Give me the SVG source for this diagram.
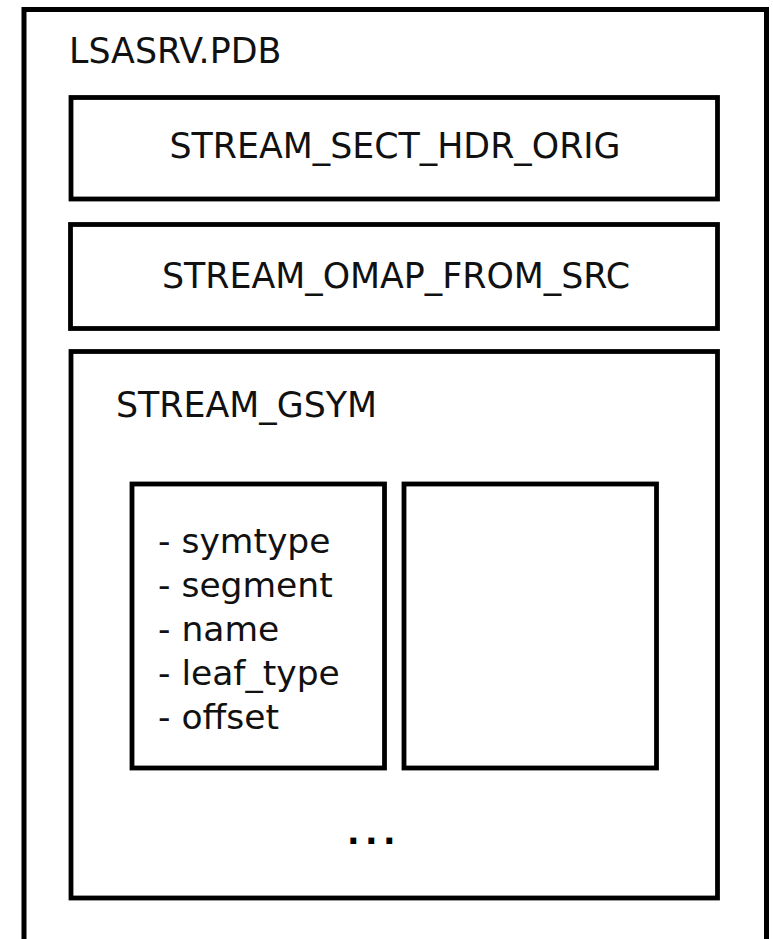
<svg xmlns="http://www.w3.org/2000/svg" width="773" height="939" viewBox="0 0 773 939">
<style>
.box{fill:none;stroke:#000;stroke-width:4.8}
.outer{fill:none;stroke:#000;stroke-width:5}
.t{font-family:"DejaVu Sans",sans-serif;font-size:34.8px;fill:#111}
.l{font-family:"DejaVu Sans",sans-serif;font-size:34.5px;fill:#111}
.d{font-family:"DejaVu Sans",sans-serif;font-size:33px;font-weight:bold;fill:#000;letter-spacing:5.5px}
</style>
<rect width="773" height="939" fill="#fff"/>
<g id="lsasrv">
<rect class="outer" x="24" y="9.5" width="742.5" height="932"/>
<text class="t" x="69" y="63">LSASRV.PDB</text>
</g>
<g id="sect_hdr">
<rect class="box" x="71" y="97.5" width="646.5" height="101.5"/>
<text class="t" x="395" y="158" text-anchor="middle">STREAM_SECT_HDR_ORIG</text>
</g>
<g id="omap">
<rect class="box" x="70.5" y="224.5" width="647" height="104"/>
<text class="t" x="396" y="288" text-anchor="middle">STREAM_OMAP_FROM_SRC</text>
</g>
<g id="gsym">
<rect class="box" x="71" y="351.5" width="646.5" height="546.5"/>
<text class="t" x="116" y="417">STREAM_GSYM</text>
<text class="d" x="374" y="844" text-anchor="middle">...</text>
</g>
<g id="sym1">
<rect class="box" x="132" y="484" width="252.5" height="284"/>
<text class="l" x="158" y="553">- symtype</text>
<text class="l" x="158" y="597">- segment</text>
<text class="l" x="158" y="641">- name</text>
<text class="l" x="158" y="685">- leaf_type</text>
<text class="l" x="158" y="729">- offset</text>
</g>
<g id="sym2">
<rect class="box" x="404" y="484" width="252.5" height="284"/>
</g>
<g id="connectors"></g>
</svg>
